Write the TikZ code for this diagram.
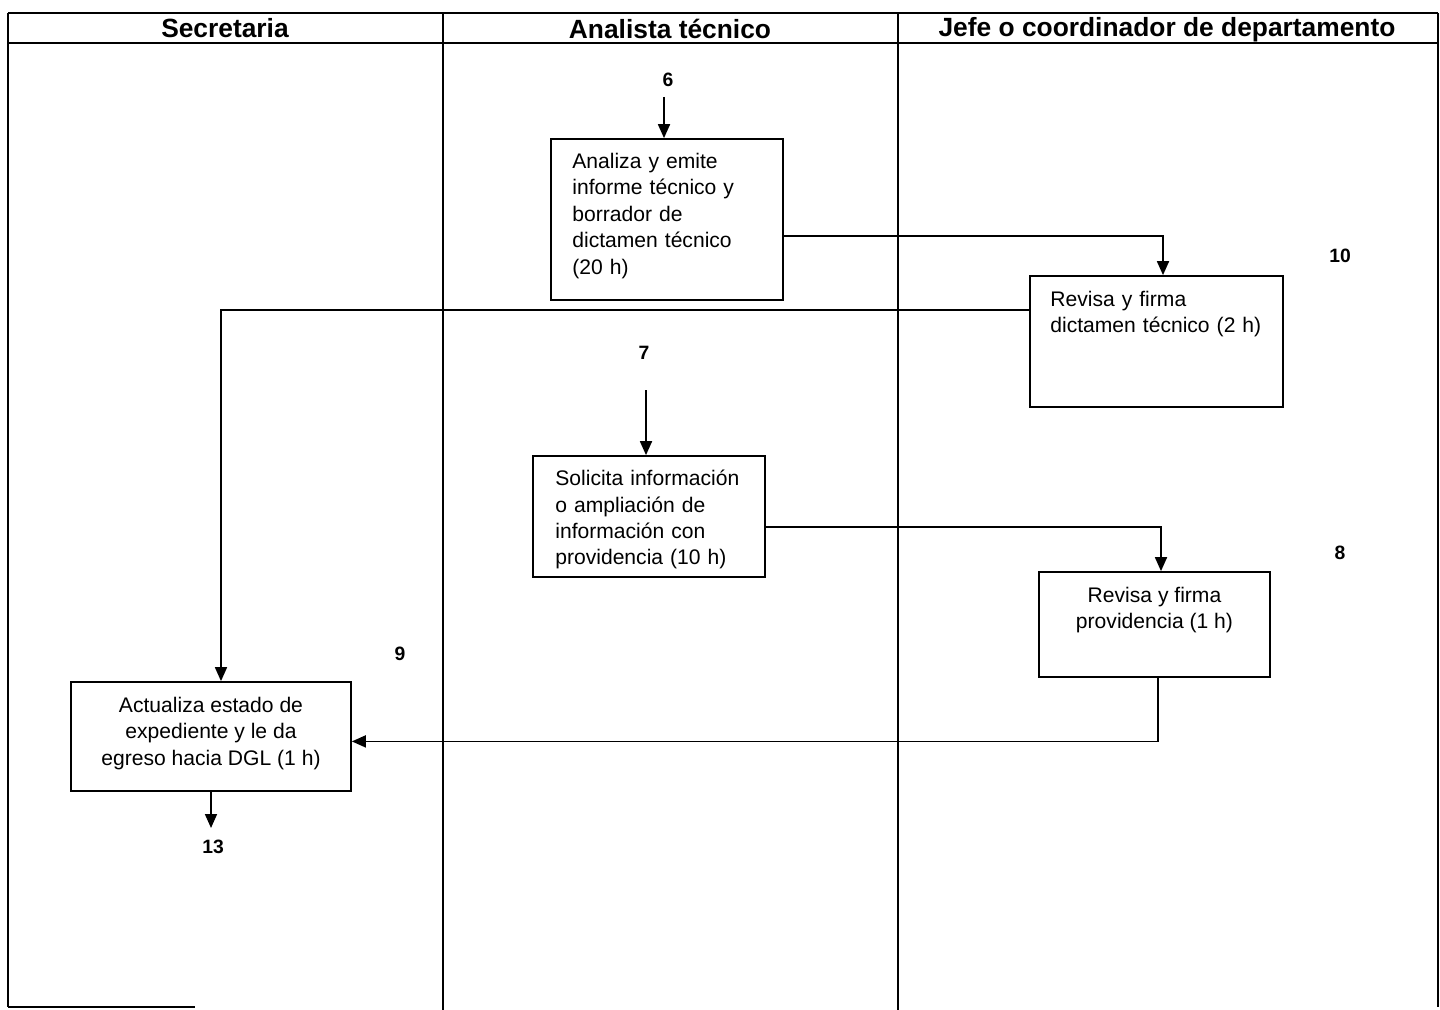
\documentclass[tikz,border=0pt]{standalone}
\usepackage{fontspec}
\setmainfont{Liberation Sans}
\usetikzlibrary{arrows.meta}

\begin{document}
\begin{tikzpicture}[x=0.02cm,y=-0.02cm,
    box/.style={draw, line width=1pt, inner sep=0pt},
    txt/.style={inner sep=0pt, font=\fontsize{12}{15}\selectfont},
    lanehead/.style={inner sep=0pt, font=\fontsize{15}{17}\selectfont\bfseries},
    num/.style={inner sep=1pt, font=\fontsize{11}{12}\selectfont\bfseries},
    arr/.style={line width=1pt, -{Triangle[length=0.28cm, width=0.24cm]}},
    lane/.style={line width=1.1pt}]
    \useasboundingbox (0,0) rectangle (1440,1010);
    % Draw the outer frame and the header row
    \draw[lane] (8,13) -- (1438,13);
    \draw[lane] (8,43) -- (1438,43);
    \draw[line width=1.4pt] (8,13) -- (8,1007);
    \draw[lane] (1438,13) -- (1438,1007);
    \draw[lane] (8,1007) -- (195,1007); % bottom edge, only partly visible
    % Draw the column dividers
    \draw[line width=0.8pt] (443,13) -- (443,1010);
    \draw[line width=0.8pt] (898,13) -- (898,1010);
    % Lane titles
    \node[lanehead] (h_secretaria) at (225,28) {Secretaria};
    \node[lanehead] (h_analista) at (670,29) {Analista técnico};
    \node[lanehead] (h_jefe) at (1167,30) {Jefe o coordinador de departamento};

    % Activity boxes
    \node[box, minimum width=4.64cm, minimum height=3.22cm] (b_analiza) at (667,219.5) {};
    \node[box, minimum width=5.06cm, minimum height=2.62cm] (b_dictamen) at (1156.5,341.5) {};
    \node[box, minimum width=4.64cm, minimum height=2.42cm] (b_solicita) at (649,516.5) {};
    \node[box, minimum width=4.62cm, minimum height=2.10cm] (b_providencia) at (1154.5,624.5) {};
    \node[box, minimum width=5.60cm, minimum height=2.18cm] (b_actualiza) at (211,736.5) {};

    % Texts inside the boxes
    \node[txt, anchor=north west, text width=4.1cm, align=left] (t_analiza) at (572,153)
        {Analiza y emite\\informe técnico y\\borrador de\\dictamen técnico\\(20 h)};
    \node[txt, anchor=north west, text width=4.6cm, align=left] (t_dictamen) at (1050,291)
        {Revisa y firma\\dictamen técnico (2 h)};
    \node[txt, anchor=north west, text width=4.3cm, align=left] (t_solicita) at (555,470)
        {Solicita información\\o ampliación de\\información con\\providencia (10 h)};
    \node[txt, anchor=north, align=center] (t_providencia) at (1154.5,587)
        {Revisa y firma\\providencia (1 h)};
    \node[txt, anchor=north, align=center] (t_actualiza) at (211,697)
        {Actualiza estado de\\expediente y le da\\egreso hacia DGL (1 h)};

    % Step numbers
    \node[num] (n6) at (668,80) {6};
    \node[num] (n7) at (644,353) {7};
    \node[num] (n8) at (1340,553) {8};
    \node[num] (n9) at (400,654) {9};
    \node[num] (n10) at (1340,256) {10};
    \node[num] (n13) at (213,847) {13};
    \coordinate (c6) at (664,97);
    \coordinate (c7) at (646,390);
    \coordinate (c13) at (213,828);

    % Connectors
    \draw[arr] (c6) -- (c6 |- b_analiza.north);
    \draw[arr] (b_analiza.-8) -| ([xshift=0.13cm]b_dictamen.north);
    \draw[arr] (b_dictamen.166) -| ([xshift=0.2cm]b_actualiza.north);
    \draw[arr] (c7) -- (c7 |- b_solicita.north);
    \draw[arr] (b_solicita.-5) -| ([xshift=0.13cm]b_providencia.north);
    \draw[arr] ([xshift=0.07cm]b_providencia.south) |- (b_actualiza.-2);
    \draw[arr] (b_actualiza.south) -- (b_actualiza.south |- c13);
\end{tikzpicture}
\end{document}
